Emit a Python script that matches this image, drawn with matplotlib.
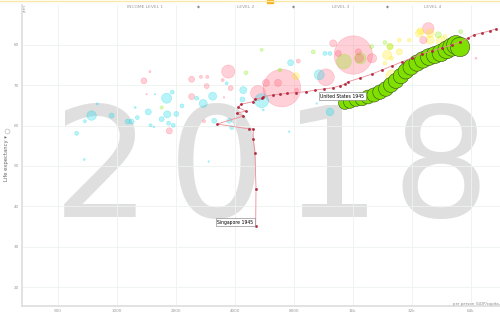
import matplotlib.pyplot as plt
from matplotlib.colors import to_rgba

# axis ticks
x_ticks = [500, 1000, 2000, 4000, 8000, 16000, 32000, 64000]
x_tick_labels = ['500', '1000', '2000', '4000', '8000', '16k', '32k', '64k']
y_ticks = [20, 30, 40, 50, 60, 70, 80]
top_labels = ['INCOME LEVEL 1', 'LEVEL 2', 'LEVEL 3', 'LEVEL 4']
year = '2018'

# faded background bubbles, 2018 (gdp per person, life expectancy, population in millions)
africa_gdp = [745, 689, 796, 943, 625, 684, 1138, 1193, 1274, 1244, 1450, 1491, 1550, 1799,
              1812, 1697, 1842, 1944, 2014, 2154, 1922, 1568, 2560, 2766, 3088, 3640, 3147,
              3753, 3861, 2946, 4425, 4383, 5494, 5598, 7594, 10480, 12250, 10806, 7722,
              11556, 12250]
africa_life = [62.5, 61.1, 65.4, 62.5, 58.1, 51.6, 61.0, 61.0, 62.0, 64.5, 63.4, 60.1, 59.7, 66.8,
               62.8, 61.6, 60.6, 60.1, 62.9, 64.9, 68.3, 67.8, 66.8, 65.5, 67.3, 70.5, 61.2,
               61.2, 59.5, 51.1, 68.8, 66.5, 66.2, 63.9, 58.5, 65.5, 63.4, 72.6, 75.6,
               77.9, 77.9]
africa_pop = [86, 9, 4, 24, 15, 4, 24, 24, 15, 4, 35, 9, 2.5, 97,
              48, 24, 15, 15, 24, 15, 15, 2, 15, 62, 62, 9, 24,
              24, 15, 2.5, 48, 24, 190, 4, 2.5, 2.5, 57, 97, 35,
              15, 15]

asia_gdp = [1479, 1378, 3711, 2413, 2693, 2900, 3474, 2878, 3816, 1422, 2413, 3528, 1856, 2790,
            6971, 5260, 5780, 6650, 8286, 8442, 12733, 11690, 16122, 13508, 17095, 17296,
            38900, 36700, 68100, 20080]
asia_life = [73.4, 71.1, 73.4, 71.5, 72.1, 72.1, 71.3, 69.8, 69.3, 67.8, 67.2, 67.0, 58.7, 61.1,
             69.3, 68.1, 70.6, 70.6, 68.8, 76.0, 80.4, 72.0, 77.5, 77.9, 78.3, 76.7,
             84.1, 81.2, 76.7, 76.7]
asia_pop = [4, 35, 166, 35, 9, 9, 9, 24, 24, 2, 35, 2.5, 37, 9,
            1350, 212, 48, 48, 15, 15, 48, 267, 1415, 35, 35, 69,
            127, 51, 4, 82]

americas_gdp = [4568, 1697, 6810, 5494, 10070, 14444, 17500, 19999, 23380, 24800, 43740, 56900]
americas_life = [73.1, 64.5, 73.8, 78.8, 78.3, 75.9, 76.7, 79.6, 80.6, 79.6, 82.5, 83.3]
americas_pop = [15, 11, 15, 9, 15, 209, 126, 15, 15, 35, 37, 15]

europe_gdp = [8218, 27660, 23380, 25300, 27660, 31110, 35000, 39700, 39700, 47300, 24800,
              25380, 45000, 35500, 24000]
europe_life = [72.3, 78.3, 75.5, 76.7, 81.2, 81.2, 82.9, 81.2, 82.9, 82.1, 79.6,
               72.3, 81.0, 83.4, 77.5]
europe_pop = [44, 38, 15, 15, 15, 15, 60, 66, 65, 15, 40,
              145, 83, 46, 82]

# United States trail, 1945 -> 2018
us_gdp = [14610, 15500, 16630, 17850, 19150, 20550, 22050, 23650, 25080, 26600, 28220,
          29900, 31740, 34070, 36520, 39170, 42010, 45060, 48340, 51370, 53860, 56460]
us_life = [65.6, 65.9, 66.4, 66.6, 67.1, 67.6, 68.3, 69.1, 70.1, 71.1, 72.3,
           73.5, 74.5, 75.5, 76.3, 77.0, 77.5, 78.0, 78.8, 79.5, 80.0, 79.5]
us_pop = [140, 145, 152, 158, 165, 172, 180, 188, 195, 200, 205,
          212, 220, 228, 235, 243, 250, 262, 275, 290, 305, 327]

# Singapore trail, 1945 -> 2018
sg_gdp = [5120, 5140, 5077, 4975, 4975, 4731, 3260, 4425, 4095, 4568, 4172, 4293, 4940, 5077,
          5494, 5598, 6250, 6810, 7364, 8218, 9240, 10270, 11420, 12730, 13780, 14610, 15180,
          17440, 20080, 22580, 25380, 28560, 32110, 36130, 40630, 45700, 51370, 56460, 62000,
          66550, 73100, 80300, 86200]
sg_life = [35.1, 44.4, 53.3, 56.7, 59.2, 59.2, 60.4, 62.4, 63.1, 63.6, 64.5, 65.3, 65.9, 66.6,
           66.8, 67.2, 67.6, 67.8, 68.0, 68.2, 68.4, 68.8, 69.1, 69.4, 69.9, 70.3, 70.9,
           71.8, 72.8, 73.8, 74.8, 75.8, 76.8, 77.8, 78.5, 79.3, 80.0, 80.7, 81.7,
           82.5, 83.0, 83.5, 84.0]

fig = plt.figure(figsize=(5, 3.17), dpi=100)
ax = fig.add_axes([0.044, 0.0347, 0.956, 0.9495])
ax.set_xscale('log')
ax.set_xlim(329, 90300)
ax.set_ylim(15.3, 89.9)

SIZE = 0.6  # marker area per million people

# big year in the background, digits spread out
for i, d in enumerate(year):
    ax.text([0.204, 0.434, 0.662, 0.882][i], 0.3155, d, transform=fig.transFigure,
            fontsize=111, color='#dfdfdf', ha='center', va='baseline', zorder=0.1)

# faded bubbles
rows = []
for gdp, life, pop, col in [(africa_gdp, africa_life, africa_pop, '#00d5e9'),
                            (asia_gdp, asia_life, asia_pop, '#ff5872'),
                            (americas_gdp, americas_life, americas_pop, '#7feb00'),
                            (europe_gdp, europe_life, europe_pop, '#ffe700')]:
    for g, l, p in zip(gdp, life, pop):
        rows.append((p, g, l, col))
rows.sort(reverse=True)
ax.scatter([r[1] for r in rows], [r[2] for r in rows], s=[r[0] * SIZE * 0.9 for r in rows],
           facecolors=[to_rgba(r[3], 0.28) for r in rows],
           edgecolors=[to_rgba(r[3], 0.35) for r in rows], linewidths=0.4, zorder=2)

# US trail
ax.scatter(us_gdp, us_life, s=[p * SIZE for p in us_pop], facecolors='#7fe000',
           edgecolors='#3a4a20', linewidths=0.4, zorder=3)

# Singapore trail
ax.plot(sg_gdp, sg_life, color='#ef8a98', lw=0.6, zorder=4)
ax.scatter(sg_gdp, sg_life, s=2.5, facecolors='#d0213b', edgecolors='#7a1020',
           linewidths=0.3, zorder=5)

box = dict(boxstyle='square,pad=0.3', fc='white', ec='#777777', lw=0.4)
ax.annotate('United States 1945', (us_gdp[0], us_life[0]), xytext=(-2, 5),
            textcoords='offset points', fontsize=3.3, ha='center', va='center',
            bbox=box, zorder=6)
ax.annotate('Singapore 1945', (sg_gdp[0], sg_life[0]), xytext=(-1.5, 1),
            textcoords='offset points', fontsize=3.3, ha='right', va='bottom',
            bbox=box, zorder=6)

# axes styling
ax.set_xticks(x_ticks)
ax.set_xticklabels(x_tick_labels)
ax.minorticks_off()
ax.set_yticks(y_ticks)
ax.tick_params(length=0, labelsize=3, colors='#999999', pad=2)
ax.grid(True, color='#eef3ef', lw=0.6)
ax.set_axisbelow(True)
for s in ['top', 'right']:
    ax.spines[s].set_visible(False)
for s in ['left', 'bottom']:
    ax.spines[s].set_color('#dddddd')
    ax.spines[s].set_linewidth(1.2)

# income level header
for xpos, lab in zip([0.257, 0.468, 0.667, 0.860], top_labels):
    ax.text(xpos, 0.993, lab, transform=ax.transAxes, fontsize=3.2, color='#999999',
            ha='center', va='center')
for xpos in [0.370, 0.567, 0.764]:
    ax.text(xpos, 0.993, '◆', transform=ax.transAxes, fontsize=2.8, color='#888888',
            ha='center', va='center')

fig.text(0.014, 0.50, 'Life expectancy ▾', rotation=90, fontsize=3.8, color='#666666',
         ha='center', va='center')
fig.lines.append(plt.Line2D([0.014], [0.587], marker='o', markersize=3.5, markerfacecolor='white',
                            markeredgecolor='#bbbbbb', markeredgewidth=0.5,
                            transform=fig.transFigure, figure=fig))
fig.text(0.05, 0.975, 'years', rotation=90, fontsize=2.2, color='#999999', ha='center', va='center')
fig.text(0.906, 0.041, 'per person (GDP/capita, PPP$ inflation-adjusted)', fontsize=2.8,
         color='#888888', ha='left', va='center')

# slider strip at the very top
fig.lines.append(plt.Line2D([0, 1], [0.997, 0.997], color='#fbe7a6', lw=1.0,
                            transform=fig.transFigure, figure=fig))
fig.patches.append(plt.Rectangle((0.534, 0.99), 0.012, 0.01, color='#f5b21b',
                                 transform=fig.transFigure, figure=fig))

fig.savefig('out.png', dpi=100)
